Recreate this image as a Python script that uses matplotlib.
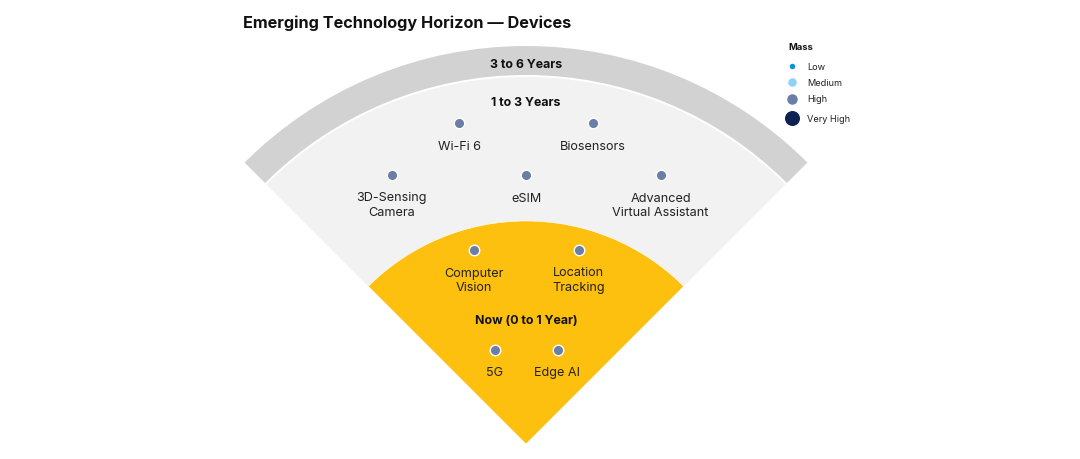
import matplotlib.pyplot as plt
from matplotlib.patches import Wedge

plt.rcParams['font.family'] = ['Inter', 'DejaVu Sans']

# data
horizons = ["Now (0 to 1 Year)", "1 to 3 Years", "3 to 6 Years"]
technologies = ["Wi-Fi 6", "Biosensors",
                "3D-Sensing\nCamera", "eSIM", "Advanced\nVirtual Assistant",
                "Computer\nVision", "Location\nTracking",
                "5G", "Edge AI"]
tech_horizon = ["1 to 3 Years", "1 to 3 Years",
                "1 to 3 Years", "1 to 3 Years", "1 to 3 Years",
                "Now (0 to 1 Year)", "Now (0 to 1 Year)",
                "Now (0 to 1 Year)", "Now (0 to 1 Year)"]
tech_mass = ["High"] * 9
mass_levels = ["Low", "Medium", "High", "Very High"]

# layout (pixel-like coords, y up)
W, H = 1080, 460
cx, cy = 526, 15
ring_r = {"Now (0 to 1 Year)": 223, "1 to 3 Years": 367, "3 to 6 Years": 398}
ring_col = {"Now (0 to 1 Year)": "#FDC00F", "1 to 3 Years": "#F2F2F2",
            "3 to 6 Years": "#D2D2D2"}
ring_label_y = {"Now (0 to 1 Year)": 141, "1 to 3 Years": 359, "3 to 6 Years": 397}
# rows of items: (y, x spacing, count), filled in order
rows = [(336, 134, 2), (284, 134.5, 3), (209, 105, 2), (109, 63, 2)]
mass_col = {"Low": "#0A94D6", "Medium": "#8DD3F6", "High": "#6B7EA6",
            "Very High": "#0B2252"}
mass_size = {"Low": 5.5, "Medium": 8.5, "High": 10.5, "Very High": 15}

fig = plt.figure(figsize=(10.8, 4.6), dpi=100)
ax = fig.add_axes([0, 0, 1, 1])
ax.set_xlim(0, W)
ax.set_ylim(0, H)
ax.axis("off")

# rings, outer first
ax.add_patch(Wedge((cx, cy), ring_r["3 to 6 Years"], 45, 135,
                   width=ring_r["3 to 6 Years"] - ring_r["1 to 3 Years"] - 2,
                   facecolor=ring_col["3 to 6 Years"], edgecolor="none"))
ax.add_patch(Wedge((cx, cy), ring_r["1 to 3 Years"], 45, 135,
                   facecolor=ring_col["1 to 3 Years"], edgecolor="none"))
ax.add_patch(Wedge((cx, cy), ring_r["Now (0 to 1 Year)"], 45, 135,
                   facecolor=ring_col["Now (0 to 1 Year)"], edgecolor="white",
                   linewidth=0.4))

for h in horizons:
    ax.text(cx, ring_label_y[h] - 2, h, ha="center", va="center",
            fontsize=8.9, fontweight="bold", color="#111111")

# technologies
i = 0
for ry, dx, n in rows:
    xs = [cx + (k - (n - 1) / 2) * dx for k in range(n)]
    for x in xs:
        m = tech_mass[i]
        ax.plot(x, ry, "o", ms=mass_size[m] * 0.72, color=mass_col[m],
                mec="white", mew=1.0, zorder=3)
        ax.text(x, ry - 16.5, technologies[i], ha="center", va="top",
                fontsize=9.1, color="#222222", linespacing=1.32)
        i += 1

# legend
ax.text(788, H - 48, "Mass", ha="left", va="center", fontsize=6.8,
        fontweight="bold", color="#111111")
for lvl, ly in zip(mass_levels, [67, 83, 100, 119]):
    ax.plot(792, H - ly, "o", ms=mass_size[lvl] * 0.72, color=mass_col[lvl],
            mec="none")
    ax.text(807, H - ly, lvl, ha="left", va="center", fontsize=6.6,
            color="#222222")

ax.text(243, H - 23, "Emerging Technology Horizon \u2014 Devices", ha="left",
        va="center", fontsize=11.7, fontweight="bold", color="#111111")

fig.savefig("out.png", dpi=100, facecolor="white")
